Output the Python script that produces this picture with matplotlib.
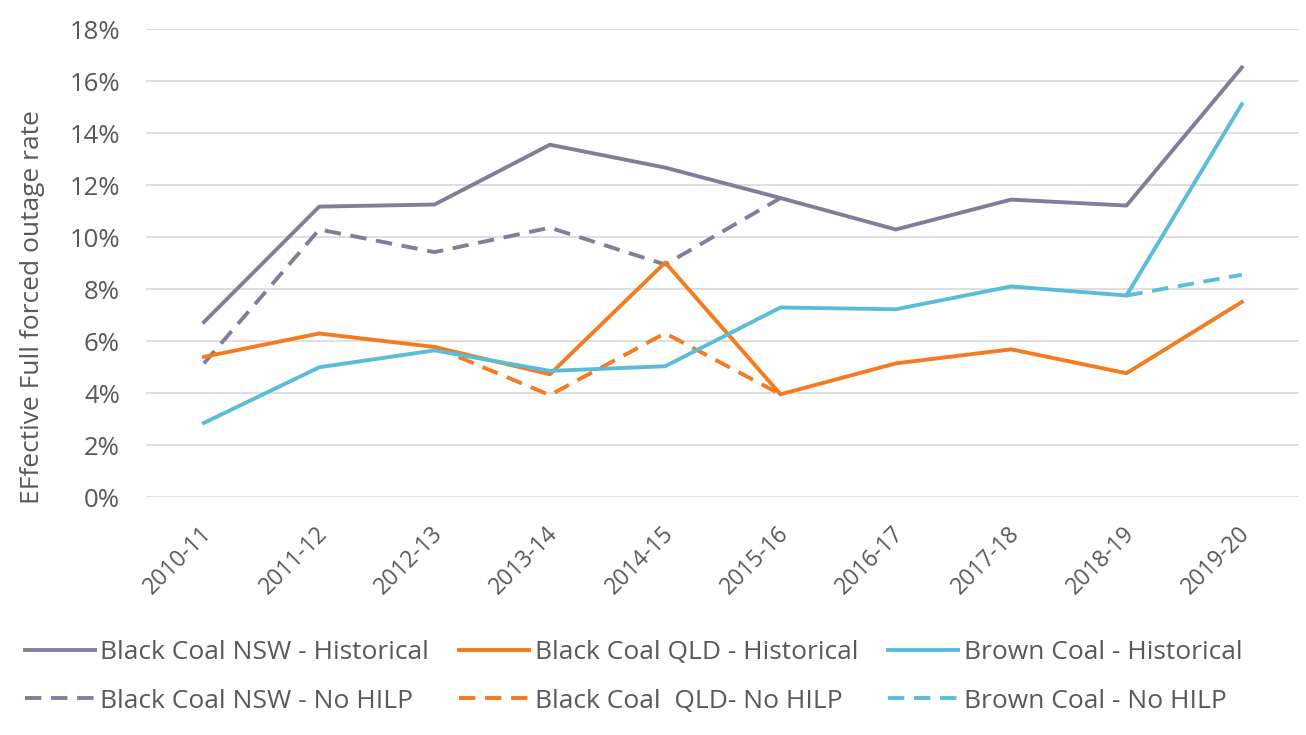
import numpy as np
import matplotlib
matplotlib.use("Agg")
import matplotlib.pyplot as plt
import matplotlib.transforms as mtransforms

plt.rcParams['font.family'] = ['Open Sans', 'DejaVu Sans']

# Data (percent)
years = ["2010-11", "2011-12", "2012-13", "2013-14", "2014-15",
         "2015-16", "2016-17", "2017-18", "2018-19", "2019-20"]
nan = np.nan
nsw_hist = [6.73, 11.17, 11.25, 13.55, 12.67, 11.5, 10.29, 11.44, 11.21, 16.52]
nsw_nohilp = [5.14, 10.29, 9.42, 10.36, 8.94, 11.5, nan, nan, nan, nan]
qld_hist = [5.39, 6.29, 5.77, 4.72, 9.02, 3.95, 5.14, 5.68, 4.76, 7.5]
qld_nohilp = [nan, nan, 5.77, 3.92, 6.3, 3.95, nan, nan, nan, nan]
brown_hist = [2.85, 4.99, 5.64, 4.85, 5.03, 7.29, 7.22, 8.1, 7.75, 15.11]
brown_nohilp = [nan, nan, nan, nan, nan, nan, nan, nan, 7.75, 8.55]

c_nsw = "#7F7F99"
c_qld = "#F47B20"
c_brown = "#5BBCD8"
txt = "#595959"

fig = plt.figure(figsize=(13.06, 7.35), dpi=100)
ax = fig.add_axes([0.112, 0.3238, 0.883, 0.6367])

x = np.arange(len(years))
lw = 2.8
dash = (0, (4.2, 2.5))

l1, = ax.plot(x, nsw_hist, color=c_nsw, lw=lw, label="Black Coal NSW - Historical", zorder=3)
l2, = ax.plot(x, nsw_nohilp, color=c_nsw, lw=lw, ls=dash, label="Black Coal NSW - No HILP", zorder=2)
l3, = ax.plot(x, qld_hist, color=c_qld, lw=lw, label="Black Coal QLD - Historical", zorder=3)
l4, = ax.plot(x, qld_nohilp, color=c_qld, lw=lw, ls=dash, label="Black Coal  QLD- No HILP", zorder=2)
l5, = ax.plot(x, brown_hist, color=c_brown, lw=lw, label="Brown Coal - Historical", zorder=3)
l6, = ax.plot(x, brown_nohilp, color=c_brown, lw=lw, ls=dash, label="Brown Coal - No HILP", zorder=2)

ax.set_xlim(-0.5, len(years) - 0.5)
ax.set_ylim(0, 18)
ax.set_yticks(np.arange(0, 19, 2))
ax.set_yticklabels([f"{v}%" for v in range(0, 19, 2)])
ax.set_xticks(x)
ax.set_xticklabels(years, rotation=45, ha="right", rotation_mode="anchor")
ax.grid(axis="y", color="#D9D9D9", lw=1.2)
ax.set_axisbelow(True)
for s in ax.spines.values():
    s.set_visible(False)
ax.tick_params(axis="y", length=0, labelsize=18.5, colors=txt, pad=19)
ax.tick_params(axis="x", length=0, labelsize=16.5, colors=txt, pad=18)
# nudge the rotated year labels a little to the left
shift = mtransforms.ScaledTranslation(-4 / 100, 0, fig.dpi_scale_trans)
for lab in ax.get_xticklabels():
    lab.set_transform(lab.get_transform() + shift)
ax.set_ylabel("EFfective Full forced outage rate", fontsize=19, color=txt)
ax.yaxis.set_label_coords(-0.0876, 0.406)

fig.legend([l1, l2, l3, l4, l5, l6], [h.get_label() for h in [l1, l2, l3, l4, l5, l6]],
           ncol=3, loc="upper left", bbox_to_anchor=(0.011, 0.143), frameon=False,
           borderaxespad=0, fontsize=19, labelcolor=txt, handlelength=2.65,
           handletextpad=0.2, columnspacing=1.15, labelspacing=0.88)

fig.savefig("out.png", dpi=100)
